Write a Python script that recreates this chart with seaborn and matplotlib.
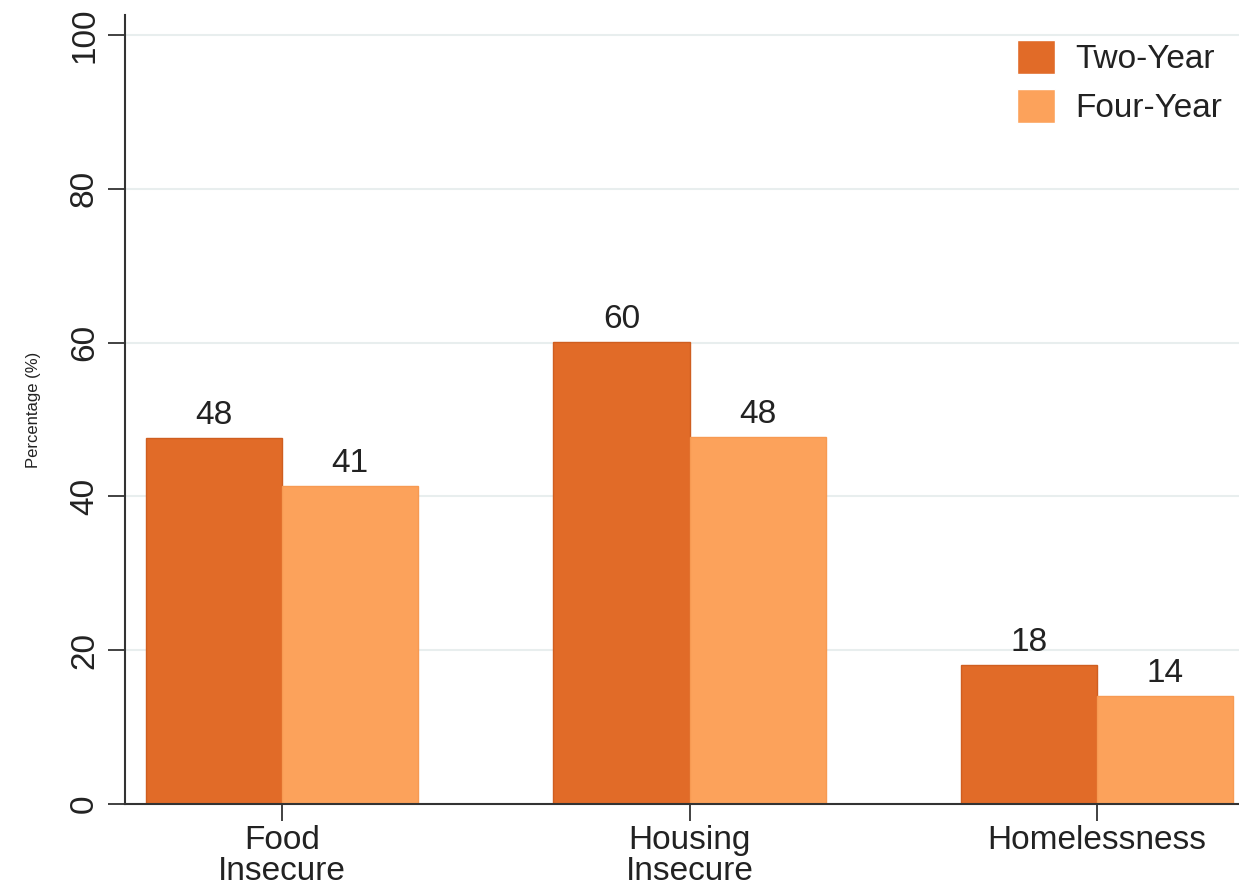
import matplotlib
matplotlib.use("Agg")
import matplotlib.pyplot as plt
import seaborn as sns
import pandas as pd

categories = ["Food\nInsecure", "Housing\nInsecure", "Homelessness"]
two_year = [47.6, 60.1, 18.1]
four_year = [41.4, 47.7, 14.0]
series_names = ["Two-Year", "Four-Year"]
yticks = [0, 20, 40, 60, 80, 100]

df = pd.DataFrame({
    "cat": categories * 2,
    "val": two_year + four_year,
    "type": [series_names[0]] * 3 + [series_names[1]] * 3,
})

sns.set_theme(style="white")
plt.rcParams["font.family"] = ["Liberation Sans", "DejaVu Sans"]

FS = 24
fig = plt.figure(figsize=(12.39, 8.85), dpi=100)
ax = fig.add_axes([125 / 1239, 1 - 804 / 885, 1 - 125 / 1239, (804 - 15) / 885])

colors = ["#E16B28", "#FCA25B"]
sns.barplot(data=df, x="cat", y="val", hue="type", palette=colors, width=0.668,
            gap=0, ax=ax, saturation=1, linewidth=1)

for cont, ec in zip(ax.containers, ["#CF5E20", "#F79A52"]):
    for p in cont:
        p.set_edgecolor(ec)
    ax.bar_label(cont, fmt="%.0f", padding=5, fontsize=FS, color="#222222")

ax.set_xlim(-0.385, 2.348)
ax.set_ylim(0, 102.6)
ax.set_yticks(yticks)
ax.set_yticklabels([str(t) for t in yticks], rotation=90, va="center", fontsize=FS,
                   color="#222222")
ax.tick_params(axis="y", length=12, width=1.3, color="#333333", pad=6, left=True)
ax.tick_params(axis="x", length=12, width=1.3, color="#333333", pad=3, bottom=True,
               labelsize=FS, labelcolor="#222222")
for lab in ax.get_xticklabels():
    lab.set_linespacing(1.0)

ax.yaxis.grid(True, color="#E8EEEE", linewidth=1.5)
ax.set_axisbelow(True)
for s in ["top", "right"]:
    ax.spines[s].set_visible(False)
for s in ["left", "bottom"]:
    ax.spines[s].set_color("#333333")
    ax.spines[s].set_linewidth(1.5)

ax.set_xlabel("")
ax.set_ylabel("Percentage (%)", fontsize=12, color="#222222", labelpad=20)

leg = ax.legend(loc="upper right", frameon=False, fontsize=FS, handlelength=1.15,
                handleheight=1.2, handletextpad=0.6, labelspacing=0.42,
                bbox_to_anchor=(1.0, 0.99), borderaxespad=0.1)
for t in leg.get_texts():
    t.set_color("#222222")

fig.savefig("out.png", dpi=100)
